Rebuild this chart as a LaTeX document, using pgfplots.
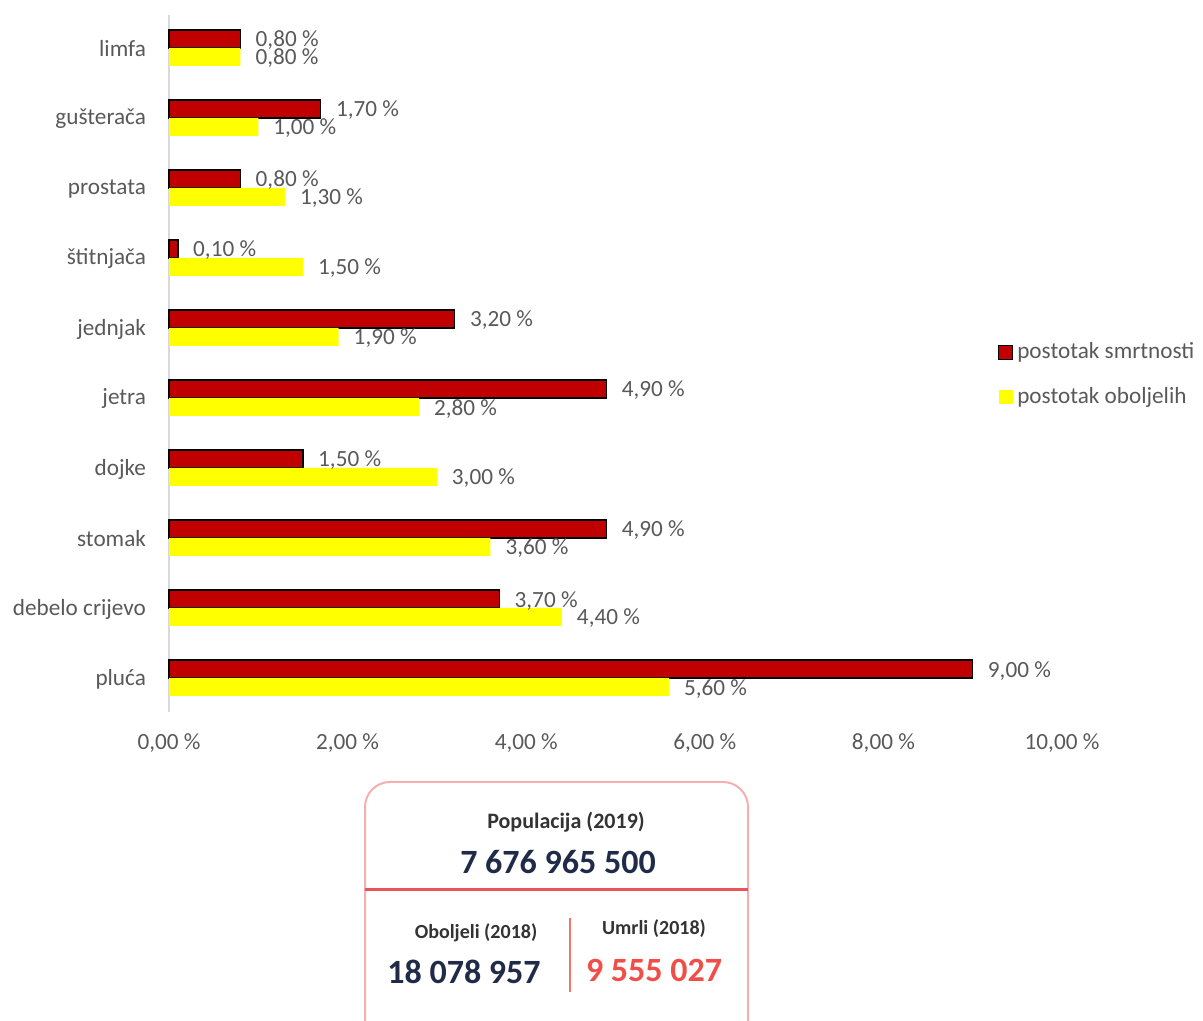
\documentclass[border=0pt]{standalone}
\usepackage{pgfplots}
\pgfplotsset{compat=1.18}
\usepackage{fontspec}
\setmainfont{Carlito}
\definecolor{txt}{HTML}{595959}
\definecolor{dred}{HTML}{C00000}
\definecolor{yel}{HTML}{FFFF00}
\definecolor{axgray}{HTML}{D9D9D9}
\definecolor{boxline}{HTML}{F4B0B0}
\definecolor{divred}{HTML}{E8545A}
\definecolor{navy}{HTML}{1F2B48}
\definecolor{numred}{HTML}{EF4F48}
\definecolor{dark}{HTML}{333333}
\newcommand{\cf}{\fontsize{11.6}{14}\selectfont}
\begin{document}
\begin{tikzpicture}[x=0.5pt,y=0.5pt]
\useasboundingbox (0,0) rectangle (1203,1021);
\begin{axis}[
  at={(84.5pt,154.5pt)}, anchor=south west,
  scale only axis, width=446.5pt, height=348.5pt,
  xbar, bar width=9pt,
  xmin=0, xmax=10, ymin=-0.486, ymax=9.471,
  enlargelimits=false, clip=false,
  ytick={0,...,9},
  yticklabels={pluća,debelo crijevo,stomak,dojke,jetra,jednjak,štitnjača,prostata,gušterača,limfa},
  xtick={0,2,...,10},
  /pgf/number format/assume math mode=true,
  xticklabel={\pgfmathprintnumber[fixed,fixed zerofill,precision=2,use comma]{\tick}~\%},
  xticklabel style={anchor=center, yshift=-15.5pt, font=\cf, text=txt},
  yticklabel style={anchor=east, xshift=-8pt, yshift=-0.5pt, font=\cf, text=txt},
  axis x line*=bottom, axis y line*=left,
  x axis line style={draw=none},
  y axis line style={draw=axgray, line width=0.75pt},
  major tick length=0pt, tick style={draw=none},
  point meta=x,
  nodes near coords={\pgfmathprintnumber[fixed,fixed zerofill,precision=2,use comma]{\pgfplotspointmeta}~\%},
  nodes near coords style={anchor=west, xshift=4pt, yshift=-0.8pt, font=\cf, text=txt},
  legend image code/.code={\path[#1] (0pt,-3.5pt) rectangle (7pt,3.5pt);},
  legend style={at={(0.928,0.4835)}, anchor=west, draw=none, fill=none,
    font=\cf, text=txt, inner sep=0pt, row sep=8.5pt,
    nodes={text height=8pt, text depth=2pt}},
  legend cell align=left,
]
\addplot[fill=dred, draw=black, line width=0.6pt, bar shift=4.5pt] coordinates {
(9.0,0) (3.7,1) (4.9,2) (1.5,3) (4.9,4) (3.2,5) (0.1,6) (0.8,7) (1.7,8) (0.8,9)};
\addplot[fill=yel, draw=none, bar shift=-4.5pt] coordinates {
(5.6,0) (4.4,1) (3.6,2) (3.0,3) (2.8,4) (1.9,5) (1.5,6) (1.3,7) (1.0,8) (0.8,9)};
\legend{postotak smrtnosti, postotak oboljelih}
\end{axis}
\begin{scope}
\clip (0,0) rectangle (1203,1021);
\draw[boxline, line width=1pt, rounded corners=12.5pt] (365,239) rectangle (748,-40);
\draw[divred, line width=1.5pt] (365,131) -- (748,131);
\draw[numred!80, line width=0.9pt] (570,103) -- (570,29);
\end{scope}
\node[font=\fontsize{11}{13}\selectfont\bfseries, text=dark] at (566,199) {Populacija (2019)};
\node[font=\fontsize{17}{20}\selectfont\bfseries, text=navy] at (558,159) {7 676 965 500};
\node[font=\fontsize{10}{12}\selectfont\bfseries, text=dark] at (476,88) {Oboljeli (2018)};
\node[font=\fontsize{17}{20}\selectfont\bfseries, text=navy] at (464,49) {18 078 957};
\node[font=\fontsize{10}{12}\selectfont\bfseries, text=dark] at (654,92) {Umrli (2018)};
\node[font=\fontsize{17}{20}\selectfont\bfseries, text=numred] at (654,51) {9 555 027};
\end{tikzpicture}
\end{document}
